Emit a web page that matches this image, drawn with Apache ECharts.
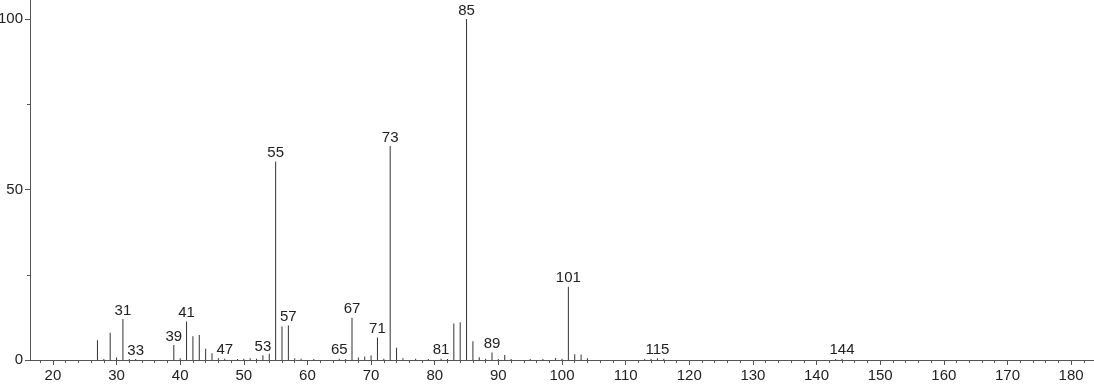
<!DOCTYPE html>
<html>
<head>
<meta charset="utf-8">
<script src="https://cdn.jsdelivr.net/npm/echarts@6/dist/echarts.min.js"></script>
<style>
html,body{margin:0;padding:0;background:#fff;}
#chart{width:1094px;height:384px;}
</style>
</head>
<body>
<div id="chart"></div>
<script>
// m/z values of the peaks
const mzValues = [27, 28, 29, 30, 31, 32, 33, 39, 40, 41, 42, 43, 44, 45, 46, 47, 49, 50, 51, 52, 53, 54, 55, 56, 57, 58, 59, 61, 65, 66, 67, 68, 69, 70, 71, 72, 73, 74, 75, 77, 79, 81, 82, 83, 84, 85, 86, 87, 88, 89, 90, 91, 92, 95, 97, 99, 100, 101, 102, 103, 104, 113, 114, 115, 116, 143, 144];
// relative intensities (%)
const intensities = [5.8, 0.3, 8.0, 0.7, 12.0, 0.3, 0.3, 4.4, 0.5, 11.3, 7.0, 7.3, 3.3, 2.0, 0.5, 0.4, 0.3, 0.4, 0.5, 0.4, 1.4, 1.8, 58.2, 9.8, 10.1, 0.5, 0.4, 0.3, 0.4, 0.3, 12.4, 0.7, 1.0, 1.3, 6.6, 0.4, 62.8, 3.6, 0.5, 0.4, 0.3, 0.4, 0.3, 10.7, 11.1, 100, 5.5, 0.8, 0.4, 2.2, 0.3, 1.5, 0.3, 0.3, 0.3, 0.6, 0.4, 21.5, 1.7, 1.6, 0.5, 0.3, 0.4, 0.5, 0.4, 0.3, 0.4];
// peaks that carry a label
const labeledPeaks = [31, 33, 39, 41, 47, 53, 55, 57, 65, 67, 71, 73, 81, 85, 89, 101, 115, 144];
// axis tick values
const xMajorTicks = [20, 30, 40, 50, 60, 70, 80, 90, 100, 110, 120, 130, 140, 150, 160, 170, 180];
const xMinorTicks = [18, 22, 24, 26, 28, 32, 34, 36, 38, 42, 44, 46, 48, 52, 54, 56, 58, 62, 64, 66, 68, 72, 74, 76, 78, 82, 84, 86, 88, 92, 94, 96, 98, 102, 104, 106, 108, 112, 114, 116, 118, 122, 124, 126, 128, 132, 134, 136, 138, 142, 144, 146, 148, 152, 154, 156, 158, 162, 164, 166, 168, 172, 174, 176, 178, 182];
const yMajorTicks = [0, 50, 100];
const yMinorTicks = [25, 75];

const FONT = '"Liberation Sans", Arial, sans-serif';
const seriesData = mzValues.map((mz, i) => ({
  value: [mz, intensities[i]],
  label: { show: labeledPeaks.includes(mz) }
}));

const chart = echarts.init(document.getElementById('chart'), null, { renderer: 'canvas' });
chart.setOption({
  animation: false,
  backgroundColor: '#fff',
  grid: { left: 30, right: 0, top: 0, bottom: 24, containLabel: false, outerBoundsMode: 'none' },
  xAxis: [
    {
      type: 'value', min: 16.4, max: 183.6, position: 'bottom',
      axisLine: { show: true, lineStyle: { color: '#555', width: 1 } },
      axisTick: { show: true, length: 5, customValues: xMajorTicks, lineStyle: { color: '#555' } },
      axisLabel: { show: true, customValues: xMajorTicks, margin: 8, fontSize: 15, color: '#222', fontFamily: FONT },
      splitLine: { show: false }
    },
    {
      type: 'value', min: 16.4, max: 183.6, position: 'bottom', offset: 0,
      axisLine: { show: false },
      axisTick: { show: true, length: 3, customValues: xMinorTicks, lineStyle: { color: '#555' } },
      axisLabel: { show: false },
      splitLine: { show: false }
    }
  ],
  yAxis: [
    {
      type: 'value', min: 0, max: 105.6, position: 'left',
      axisLine: { show: true, lineStyle: { color: '#555', width: 1 } },
      axisTick: { show: true, length: 5, customValues: yMajorTicks, lineStyle: { color: '#555' } },
      axisLabel: { show: true, customValues: yMajorTicks, margin: 7, fontSize: 15, color: '#222', fontFamily: FONT },
      splitLine: { show: false }
    },
    {
      type: 'value', min: 0, max: 105.6, position: 'left', offset: 0,
      axisLine: { show: false },
      axisTick: { show: true, length: 3, customValues: yMinorTicks, lineStyle: { color: '#555' } },
      axisLabel: { show: false },
      splitLine: { show: false }
    }
  ],
  series: [
    {
      type: 'bar',
      xAxisIndex: 0, yAxisIndex: 0,
      barWidth: 1,
      itemStyle: { color: '#333' },
      label: {
        position: 'top', distance: 1, fontSize: 15, color: '#222', fontFamily: FONT,
        formatter: p => String(p.value[0])
      },
      data: seriesData
    }
  ]
});
</script>
</body>
</html>
